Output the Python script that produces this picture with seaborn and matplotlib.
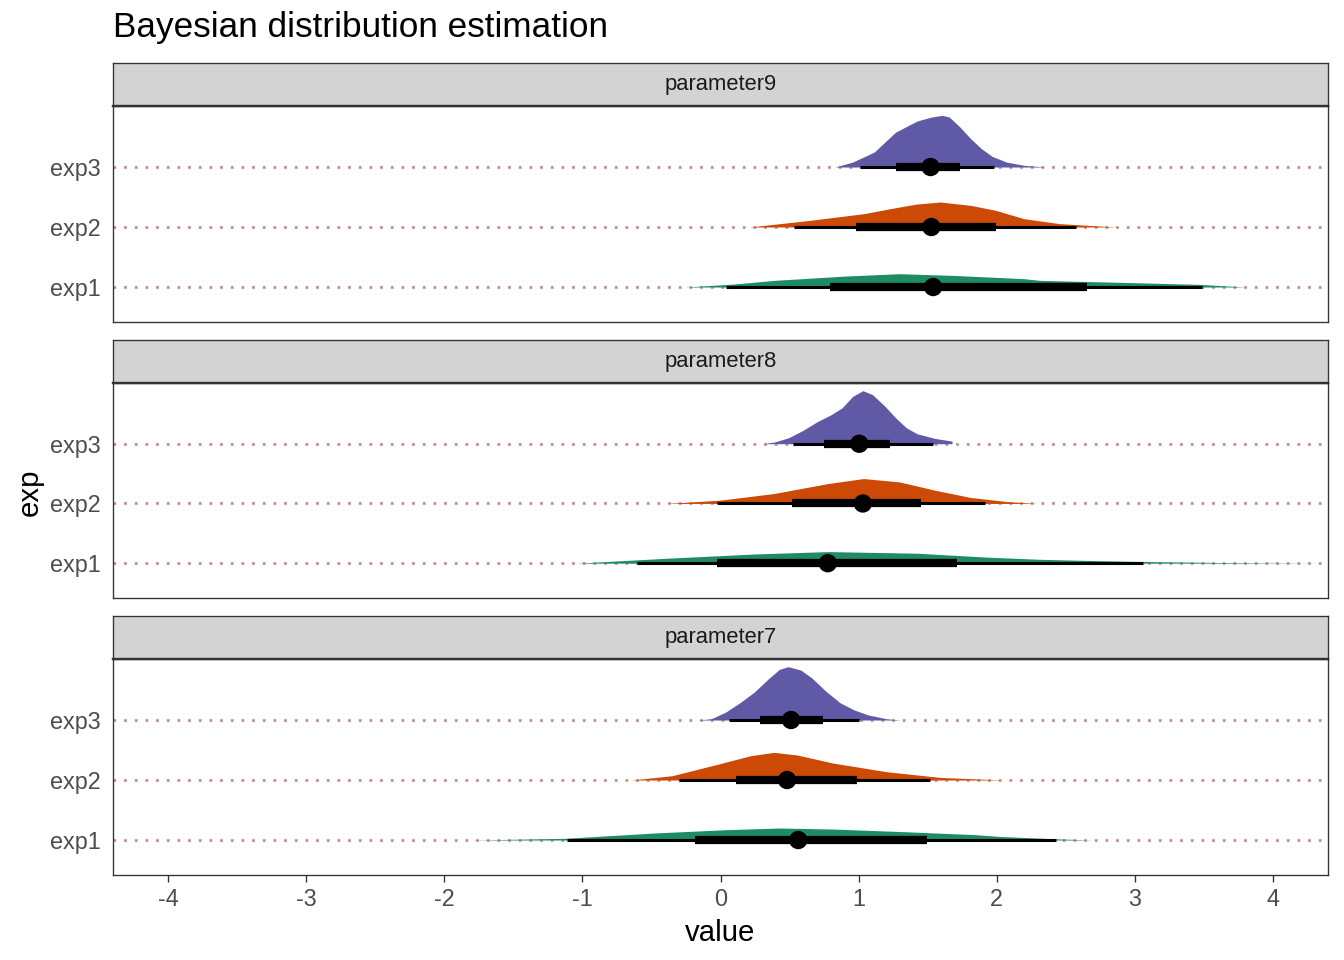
import numpy as np
import pandas as pd
import matplotlib
matplotlib.use("Agg")
import matplotlib.pyplot as plt
import seaborn as sns

# Facettes et groupes
params = ["parameter9", "parameter8", "parameter7"]
exps = ["exp1", "exp2", "exp3"]
couleurs = {"exp1": "#1E8C63", "exp2": "#CC4A06", "exp3": "#6059A5"}

# Profils de densité : (valeur, hauteur relative)
dens_p9_exp1_x = [-0.257, 0.10, 0.39, 0.907, 1.295, 1.683, 2.198, 2.314, 2.893, 3.47, 3.798]
dens_p9_exp1_h = [0.0, 0.05, 0.111, 0.183, 0.222, 0.194, 0.139, 0.111, 0.078, 0.044, 0.0]
dens_p9_exp2_x = [0.208, 0.647, 1.036, 1.295, 1.423, 1.592, 1.812, 1.993, 2.198, 2.458, 2.871]
dens_p9_exp2_h = [0.0, 0.111, 0.222, 0.333, 0.383, 0.417, 0.361, 0.278, 0.139, 0.056, 0.0]
dens_p9_exp3_x = [0.829, 0.958, 1.114, 1.191, 1.269, 1.424, 1.527, 1.605, 1.657, 1.734,
                  1.812, 1.890, 1.967, 2.070, 2.199, 2.355]
dens_p9_exp3_h = [0.0, 0.083, 0.25, 0.417, 0.583, 0.767, 0.833, 0.861, 0.833, 0.667,
                  0.472, 0.306, 0.178, 0.083, 0.028, 0.0]

dens_p8_exp1_x = [-1.046, -0.387, 0.258, 0.777, 1.423, 1.941, 2.314, 2.588, 3.0, 3.6, 4.34]
dens_p8_exp1_h = [0.0, 0.083, 0.155, 0.194, 0.167, 0.10, 0.065, 0.05, 0.03, 0.012, 0.0]
dens_p8_exp2_x = [-0.399, 0.001, 0.389, 0.777, 1.036, 1.295, 1.553, 1.812, 2.070, 2.290]
dens_p8_exp2_h = [0.0, 0.056, 0.167, 0.333, 0.417, 0.361, 0.222, 0.10, 0.033, 0.0]
dens_p8_exp3_x = [0.299, 0.390, 0.493, 0.596, 0.699, 0.803, 0.880, 0.958, 1.031, 1.101,
                  1.191, 1.269, 1.346, 1.424, 1.553, 1.677, 1.677]
dens_p8_exp3_h = [0.0, 0.028, 0.10, 0.222, 0.367, 0.489, 0.60, 0.794, 0.889, 0.822,
                  0.628, 0.433, 0.267, 0.167, 0.089, 0.044, 0.0]

dens_p7_exp1_x = [-1.811, -1.126, -0.479, 0.038, 0.426, 0.814, 1.331, 1.848, 2.02, 2.43, 2.695]
dens_p7_exp1_h = [0.0, 0.028, 0.117, 0.172, 0.20, 0.183, 0.139, 0.089, 0.06, 0.02, 0.0]
dens_p7_exp2_x = [-0.647, -0.350, -0.014, 0.219, 0.387, 0.555, 0.814, 1.201, 1.589, 2.05]
dens_p7_exp2_h = [0.0, 0.072, 0.267, 0.406, 0.461, 0.417, 0.283, 0.139, 0.044, 0.0]
dens_p7_exp3_x = [-0.169, -0.066, 0.038, 0.141, 0.245, 0.348, 0.426, 0.490, 0.581, 0.659,
                  0.762, 0.865, 0.969, 1.072, 1.201, 1.305]
dens_p7_exp3_h = [0.0, 0.022, 0.133, 0.289, 0.467, 0.689, 0.844, 0.889, 0.833, 0.706,
                  0.483, 0.289, 0.167, 0.083, 0.022, 0.0]

densites = {
    "parameter9": {"exp1": (dens_p9_exp1_x, dens_p9_exp1_h),
                   "exp2": (dens_p9_exp2_x, dens_p9_exp2_h),
                   "exp3": (dens_p9_exp3_x, dens_p9_exp3_h)},
    "parameter8": {"exp1": (dens_p8_exp1_x, dens_p8_exp1_h),
                   "exp2": (dens_p8_exp2_x, dens_p8_exp2_h),
                   "exp3": (dens_p8_exp3_x, dens_p8_exp3_h)},
    "parameter7": {"exp1": (dens_p7_exp1_x, dens_p7_exp1_h),
                   "exp2": (dens_p7_exp2_x, dens_p7_exp2_h),
                   "exp3": (dens_p7_exp3_x, dens_p7_exp3_h)},
}

# Médianes et intervalles (66 % et 95 %), dans l'ordre params x exps
int_param = ["parameter9"] * 3 + ["parameter8"] * 3 + ["parameter7"] * 3
int_exp = exps * 3
mediane = [1.540, 1.527, 1.522, 0.777, 1.031, 1.005, 0.563, 0.482, 0.511]
lo66 = [0.790, 0.984, 1.269, -0.025, 0.519, 0.747, -0.182, 0.110, 0.283]
hi66 = [2.652, 1.993, 1.734, 1.713, 1.450, 1.230, 1.499, 0.989, 0.741]
lo95 = [0.040, 0.531, 1.010, -0.606, -0.025, 0.524, -1.113, -0.298, 0.059]
hi95 = [3.489, 2.574, 1.980, 3.057, 1.915, 1.540, 2.430, 1.517, 1.000]

df = pd.DataFrame({"param": int_param, "exp": int_exp, "median": mediane,
                   "lo66": lo66, "hi66": hi66, "lo95": lo95, "hi95": hi95})
df["y"] = df["exp"].map({e: i + 1 for i, e in enumerate(exps)})

sns.set_theme(style="white")
plt.rcParams["font.family"] = ["Liberation Sans", "DejaVu Sans"]

W, H = 1344, 960
fig = plt.figure(figsize=(14, 10), dpi=96)

# positions des panneaux en pixels : (haut bandeau, haut panneau, bas panneau)
panneaux = [(63, 106, 322), (340, 383, 598), (616, 659, 875)]
gauche, droite = 113, 1328

for k, p in enumerate(params):
    s_top, p_top, p_bot = panneaux[k]
    ax = fig.add_axes([gauche / W, 1 - p_bot / H, (droite - gauche) / W, (p_bot - p_top) / H])
    st = fig.add_axes([gauche / W, 1 - p_top / H, (droite - gauche) / W, (p_top - s_top) / H])
    st.set_facecolor("#D3D3D3")
    st.set_xticks([])
    st.set_yticks([])
    for sp in st.spines.values():
        sp.set_color("#333333")
        sp.set_linewidth(1.0)
    st.spines["bottom"].set_linewidth(1.8)
    st.text(0.5, 0.5, p, ha="center", va="center", fontsize=16.5, color="#1A1A1A",
            transform=st.transAxes)

    sub = df[df["param"] == p]
    for e_i, e in enumerate(exps):
        yb = e_i + 1
        ax.axhline(yb, color="#C0868C", lw=2.0, ls=(0, (1, 3)), zorder=1)
        xs, hs = densites[p][e]
        ax.fill_between(xs, yb, yb + np.array(hs), color=couleurs[e], lw=0, zorder=2)

    ax.hlines(sub["y"], sub["lo95"], sub["hi95"], color="black", lw=2.3, zorder=3)
    ax.hlines(sub["y"], sub["lo66"], sub["hi66"], color="black", lw=6.2, zorder=3)
    sns.scatterplot(data=sub, x="median", y="y", ax=ax, color="black", s=190,
                    edgecolor="none", zorder=4, legend=False)

    ax.set_xlim(-4.4, 4.4)
    ax.set_ylim(0.417, 4.017)
    ax.set_yticks([1, 2, 3])
    ax.set_yticklabels(exps)
    ax.set_xticks(range(-4, 5))
    ax.set_ylabel("")
    ax.set_xlabel("")
    for sp in ax.spines.values():
        sp.set_color("#333333")
        sp.set_linewidth(1.0)
    ax.tick_params(axis="y", length=0, labelsize=17.5, labelcolor="#4D4D4D", pad=9)
    if k == 2:
        ax.tick_params(axis="x", length=5, width=1.0, color="#333333", bottom=True,
                       labelsize=17.5, labelcolor="#4D4D4D", pad=5)
        ax.set_xticklabels([str(v) for v in range(-4, 5)])
        ax.set_xlabel("value", fontsize=22, color="black", labelpad=6)
    else:
        ax.set_xticklabels([])
        ax.tick_params(axis="x", length=0)

fig.text(113 / W, 1 - 28 / H, "Bayesian distribution estimation", fontsize=26.3,
         color="black", ha="left", va="center")
fig.text(30 / W, 1 - 492 / H, "exp", fontsize=22, color="black", rotation=90,
         ha="center", va="center")

fig.savefig("out.png", dpi=96)
